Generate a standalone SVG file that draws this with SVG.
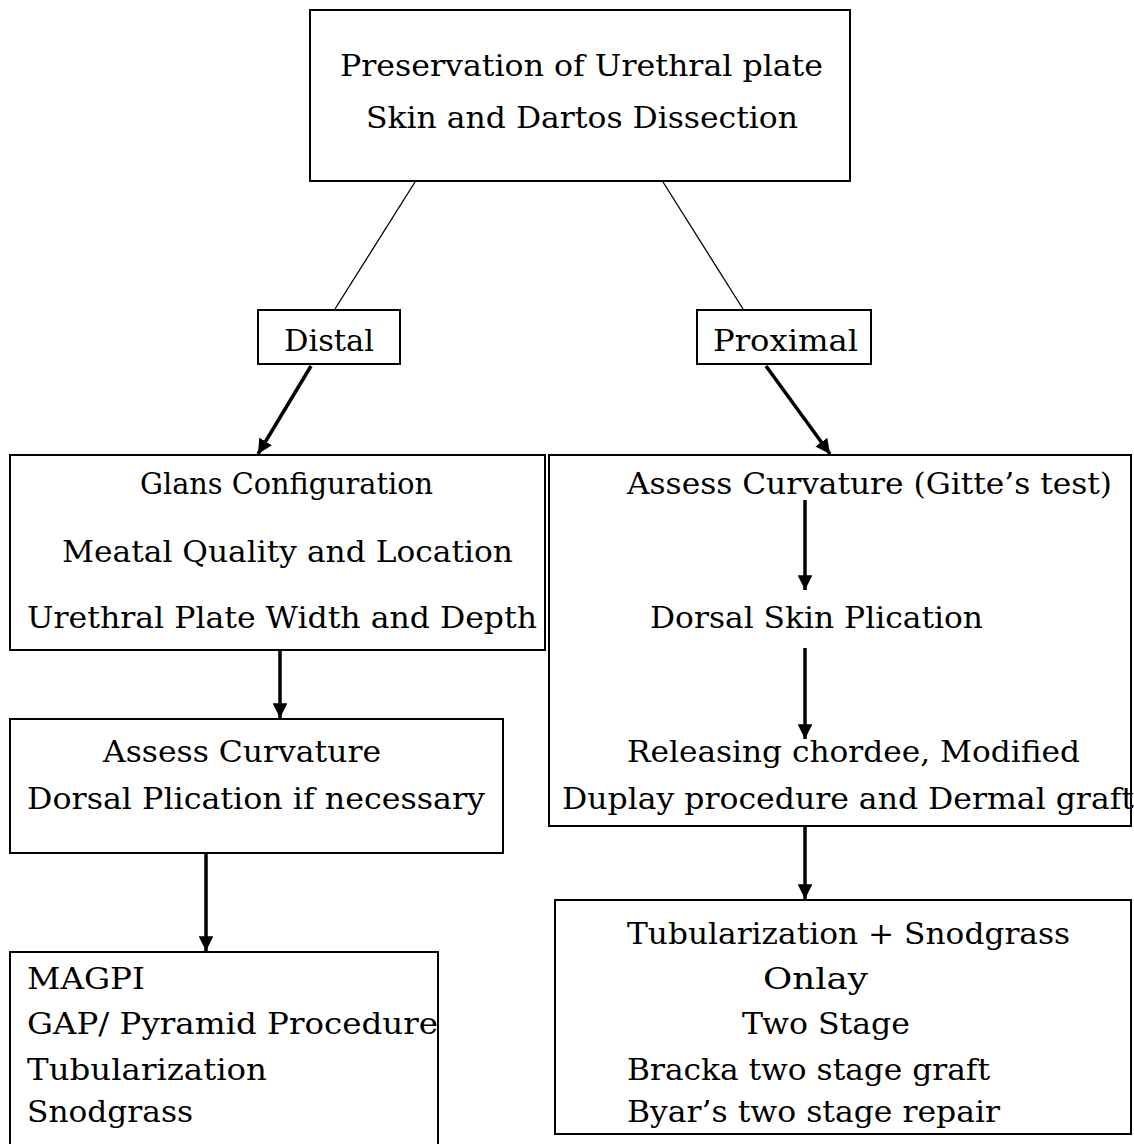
<svg xmlns="http://www.w3.org/2000/svg" width="1134" height="1144" viewBox="0 0 1134 1144">
<style>
.box{fill:#fff;stroke:#000;stroke-width:2}
.t{font-family:"DejaVu Serif","Liberation Serif",serif;font-size:30px;fill:#000}
.thin{stroke:#000;stroke-width:1.3;fill:none}
.arr{stroke:#000;stroke-width:3.5;fill:none;marker-end:url(#ah)}
</style>
<defs>
<marker id="ah" viewBox="0 0 10 10" refX="10" refY="5" markerWidth="4.2" markerHeight="4.2" orient="auto" markerUnits="strokeWidth">
<path d="M0,0 L10,5 L0,10 z" fill="#000"/>
</marker>
</defs>
<rect width="1134" height="1144" fill="#fff"/>
<g id="n-top">
<rect class="box" x="310" y="10" width="540" height="171"/>
<text class="t" x="340" y="76" textLength="483" lengthAdjust="spacingAndGlyphs">Preservation of Urethral plate</text>
<text class="t" x="366" y="128" textLength="432" lengthAdjust="spacingAndGlyphs">Skin and Dartos Dissection</text>
</g>
<g id="n-distal">
<rect class="box" x="258" y="310" width="142" height="54"/>
<text class="t" x="284" y="351" textLength="90" lengthAdjust="spacingAndGlyphs">Distal</text>
</g>
<g id="n-proximal">
<rect class="box" x="697" y="310" width="174" height="54"/>
<text class="t" x="713" y="351" textLength="145" lengthAdjust="spacingAndGlyphs">Proximal</text>
</g>
<g id="n-glans">
<rect class="box" x="10" y="455" width="535" height="195"/>
<text class="t" x="140" y="494" textLength="293" lengthAdjust="spacingAndGlyphs">Glans Configuration</text>
<text class="t" x="62" y="562" textLength="451" lengthAdjust="spacingAndGlyphs">Meatal Quality and Location</text>
<text class="t" x="27" y="628" textLength="510" lengthAdjust="spacingAndGlyphs">Urethral Plate Width and Depth</text>
</g>
<g id="n-proxbox">
<rect class="box" x="549" y="455" width="582" height="371"/>
<text class="t" x="627" y="494" textLength="485" lengthAdjust="spacingAndGlyphs">Assess Curvature (Gitte’s test)</text>
<text class="t" x="650" y="628" textLength="333" lengthAdjust="spacingAndGlyphs">Dorsal Skin Plication</text>
<text class="t" x="627" y="762" textLength="453" lengthAdjust="spacingAndGlyphs">Releasing chordee, Modified</text>
<text class="t" x="562" y="809" textLength="572" lengthAdjust="spacingAndGlyphs">Duplay procedure and Dermal graft</text>
</g>
<g id="n-assess">
<rect class="box" x="10" y="719" width="493" height="134"/>
<text class="t" x="103" y="762" textLength="278" lengthAdjust="spacingAndGlyphs">Assess Curvature</text>
<text class="t" x="27" y="809" textLength="458" lengthAdjust="spacingAndGlyphs">Dorsal Plication if necessary</text>
</g>
<g id="n-magpi">
<rect class="box" x="10" y="952" width="428" height="200"/>
<text class="t" x="27" y="989" textLength="118" lengthAdjust="spacingAndGlyphs">MAGPI</text>
<text class="t" x="27" y="1034" textLength="411" lengthAdjust="spacingAndGlyphs">GAP/ Pyramid Procedure</text>
<text class="t" x="27" y="1080" textLength="240" lengthAdjust="spacingAndGlyphs">Tubularization</text>
<text class="t" x="27" y="1122" textLength="166" lengthAdjust="spacingAndGlyphs">Snodgrass</text>
</g>
<g id="n-final">
<rect class="box" x="555" y="900" width="576" height="234"/>
<text class="t" x="627" y="944" textLength="443" lengthAdjust="spacingAndGlyphs">Tubularization + Snodgrass</text>
<text class="t" x="763" y="989" textLength="105" lengthAdjust="spacingAndGlyphs">Onlay</text>
<text class="t" x="742" y="1034" textLength="168" lengthAdjust="spacingAndGlyphs">Two Stage</text>
<text class="t" x="627" y="1080" textLength="363" lengthAdjust="spacingAndGlyphs">Bracka two stage graft</text>
<text class="t" x="627" y="1122" textLength="373" lengthAdjust="spacingAndGlyphs">Byar’s two stage repair</text>
</g>
<g id="connectors">
<line class="thin" x1="415" y1="182" x2="335" y2="309"/>
<line class="thin" x1="663" y1="182" x2="743" y2="309"/>
<line class="arr" x1="311" y1="366" x2="258" y2="454"/>
<line class="arr" x1="766" y1="366" x2="830" y2="454"/>
<line class="arr" x1="280" y1="651" x2="280" y2="718"/>
<line class="arr" x1="206" y1="854" x2="206" y2="951"/>
<line class="arr" x1="805" y1="500" x2="805" y2="590"/>
<line class="arr" x1="805" y1="648" x2="805" y2="739"/>
<line class="arr" x1="805" y1="827" x2="805" y2="899"/>
</g>
</svg>
